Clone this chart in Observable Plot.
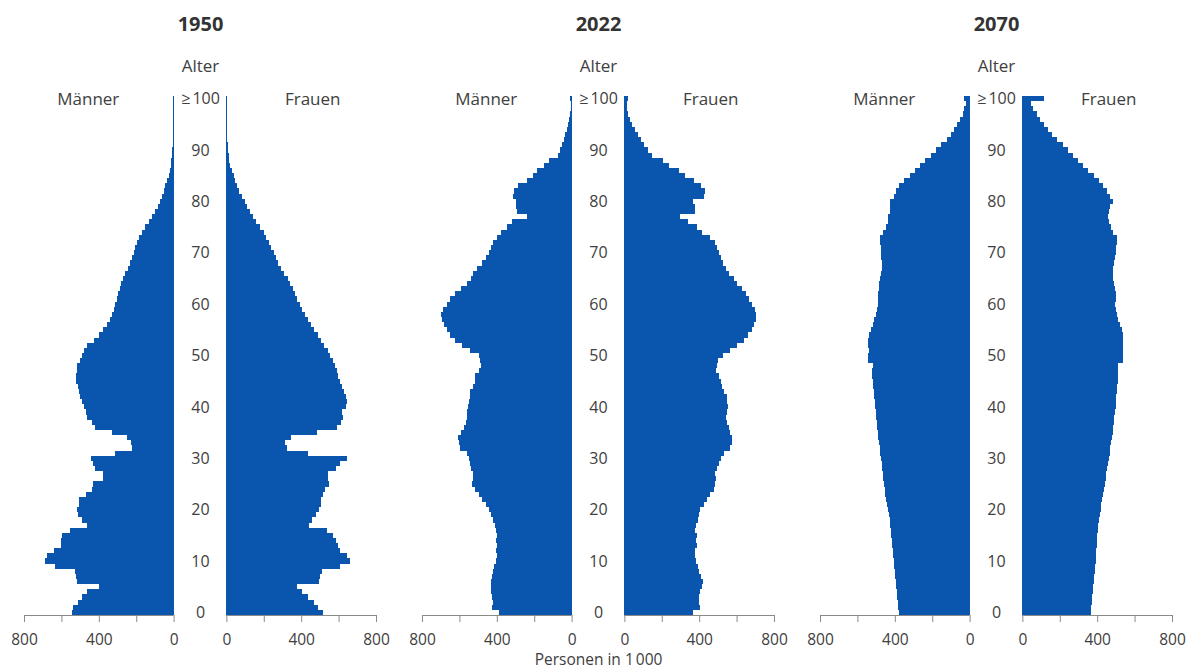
<!DOCTYPE html>
<html><head><meta charset="utf-8">
<script src="https://cdn.jsdelivr.net/npm/d3@7"></script>
<script src="https://cdn.jsdelivr.net/npm/@observablehq/plot@0.6"></script>
<style>body{margin:0;background:#fff;} #chart{width:1194px;height:670px;}</style>
</head><body><div id="chart"></div>
<script>
const years = ["1950", "2022", "2070"];
const ages = d3.range(0, 101);

// Personen in 1000, index = Alter 0 … ≥100
const men1950 = [546,539,510,489,462,400,519,524,528,635,690,676,640,604,604,599,555,462,489,512,
  519,507,507,466,436,430,379,379,418,432,444,311,222,226,249,332,418,439,462,466,
  480,492,501,507,510,521,524,516,516,498,492,480,462,427,400,379,356,338,329,320,
  311,302,297,288,279,270,258,244,231,222,213,204,196,183,169,151,133,116,98,84,
  75,62,53,44,36,27,21,16,12,9,7,6,5,5,4,4,4,4,4,4,4];
const women1950 = [514,492,466,439,404,377,496,501,510,608,661,644,608,596,585,572,537,444,457,478,
  496,507,507,514,528,549,542,546,585,608,644,439,324,311,347,484,590,613,626,620,
  638,644,638,631,620,608,599,590,581,572,555,542,524,507,489,471,452,436,421,407,
  395,380,368,354,338,327,309,292,276,265,252,240,229,212,199,181,158,140,124,110,
  98,84,69,59,48,39,30,21,16,12,9,7,6,5,5,4,4,4,4,4,4];
const men2022 = [390,424,421,424,430,433,433,424,419,415,406,401,406,401,406,401,406,412,419,430,
  442,460,478,496,517,532,526,526,537,544,550,558,598,603,607,594,576,567,562,558,
  553,550,544,544,526,517,514,496,487,490,496,545,585,621,648,666,684,693,698,687,
  666,648,621,594,562,540,526,505,478,460,442,430,419,401,376,347,317,236,290,299,
  299,311,308,286,240,209,183,150,120,75,63,52,43,34,25,18,13,9,6,5,7];
const women2022 = [365,406,397,401,406,415,419,412,401,394,385,376,379,388,385,388,379,385,394,397,
  406,424,442,460,478,487,490,487,496,505,514,532,567,576,576,567,562,550,544,550,
  555,550,550,532,523,514,505,490,496,501,525,567,603,639,662,680,693,702,705,698,
  680,666,648,627,603,585,562,544,526,514,505,496,487,460,415,388,340,299,376,379,
  365,424,433,412,370,322,290,240,209,150,125,107,90,72,57,43,30,22,16,12,21];
const men2070 = [380,382,385,387,390,392,395,398,401,404,407,409,411,414,416,419,422,425,428,433,
  439,442,446,450,453,457,461,464,468,471,475,478,481,484,488,491,494,497,500,503,
  506,508,511,513,516,518,520,522,518,542,545,540,542,542,536,527,518,509,502,497,
  491,488,488,484,482,479,475,470,470,473,475,475,479,479,461,446,439,434,428,425,
  425,407,392,380,353,320,290,263,236,209,182,151,122,101,83,65,50,38,29,20,32];
const women2070 = [365,368,370,373,375,378,381,384,386,389,391,393,395,397,399,401,404,406,409,414,
  419,423,428,432,437,441,445,449,453,458,463,466,470,474,478,482,485,488,492,496,
  499,501,503,505,507,509,511,513,513,540,540,536,540,540,540,531,522,509,504,499,
  495,499,499,495,491,486,482,486,491,495,499,499,504,504,486,473,463,459,463,468,
  486,468,455,432,409,383,351,324,297,270,243,216,185,157,135,113,95,77,59,45,113];

const ageTickValues = [0, 10, 20, 30, 40, 50, 60, 70, 80, 90, 100];
const ageTickLabels = ["0", "10", "20", "30", "40", "50", "60", "70", "80", "90", "≥\u202F100"];
const xTickValues = [0, 200, 400, 600, 800];
const xTickLabels = ["0", "", "400", "", "800"];
const sideLabels = ["Männer", "Frauen"];

const GAP = 141; // half gap between the two halves, in x units
const MAXV = 800;
const series = {
  "1950": {m: men1950, w: women1950},
  "2022": {m: men2022, w: women2022},
  "2070": {m: men2070, w: women2070}
};
const rows = [];
for (const yr of years) for (const sex of ["m", "w"]) {
  ages.forEach((a, i) => rows.push({year: yr, sex, age: a, value: series[yr][sex][i]}));
}
const side = d => d.sex === "m" ? -1 : 1;

const tickPos = [];
const tickLab = new Map();
xTickValues.forEach((v, i) => {
  tickPos.push(-(v + GAP), v + GAP);
  tickLab.set(-(v + GAP), xTickLabels[i]);
  tickLab.set(v + GAP, xTickLabels[i]);
});

const blue = "#0a56ae";
const textColor = "#404040";

const chart = Plot.plot({
  width: 1194,
  height: 670,
  marginLeft: 23,
  marginRight: 21,
  marginTop: 96,
  marginBottom: 55,
  style: {fontFamily: "'Open Sans', sans-serif", color: textColor, background: "#fff", overflow: "visible"},
  fx: {domain: years, paddingInner: 0.115, paddingOuter: 0, axis: null},
  x: {domain: [-(MAXV + GAP), MAXV + GAP], axis: null},
  y: {domain: [-0.5, 100.5], axis: null},
  marks: [
    Plot.rect(rows, {
      fx: "year",
      x1: d => side(d) * GAP,
      x2: d => side(d) * (GAP + d.value),
      y1: d => d.age - 0.5,
      y2: d => d.age + 0.5,
      fill: blue,
      shapeRendering: "crispEdges"
    }),
    Plot.ruleY([{x1: -(MAXV + GAP), x2: -GAP}, {x1: GAP, x2: MAXV + GAP}], {
      y: d => -0.5, x1: "x1", x2: "x2", stroke: "#8a8a8a", strokeWidth: 1
    }),
    Plot.axisX({
      ticks: tickPos,
      tickFormat: p => tickLab.get(p),
      tickSize: 7,
      tickPadding: 11,
      fontSize: 15.5,
      stroke: "#8a8a8a",
      fill: textColor,
      label: null
    }),
    Plot.text(ageTickValues, {
      x: d => 0, y: d => d, text: (d, i) => ageTickLabels[i],
      fontSize: 16, fill: textColor
    }),
    Plot.text(sideLabels, {
      x: (d, i) => (i === 0 ? -1 : 1) * 600, y: d => 100, text: d => d,
      fontSize: 17, fill: textColor
    }),
    Plot.text(["Alter"], {
      x: d => 0, frameAnchor: "top", lineAnchor: "middle", dy: -30, text: d => d,
      fontSize: 17, fill: textColor
    }),
    Plot.text(years, {
      fx: d => d, x: d => 0, frameAnchor: "top", lineAnchor: "middle", dy: -72, text: d => d,
      fontSize: 20, fontWeight: "bold", fill: "#333"
    }),
    Plot.text(["Personen in 1\u202F000"], {
      fx: d => "2022", x: d => 0, frameAnchor: "bottom", lineAnchor: "middle", dy: 45, text: d => d,
      fontSize: 15.5, fill: textColor
    })
  ]
});
document.getElementById("chart").appendChild(chart);
</script>
</body></html>
